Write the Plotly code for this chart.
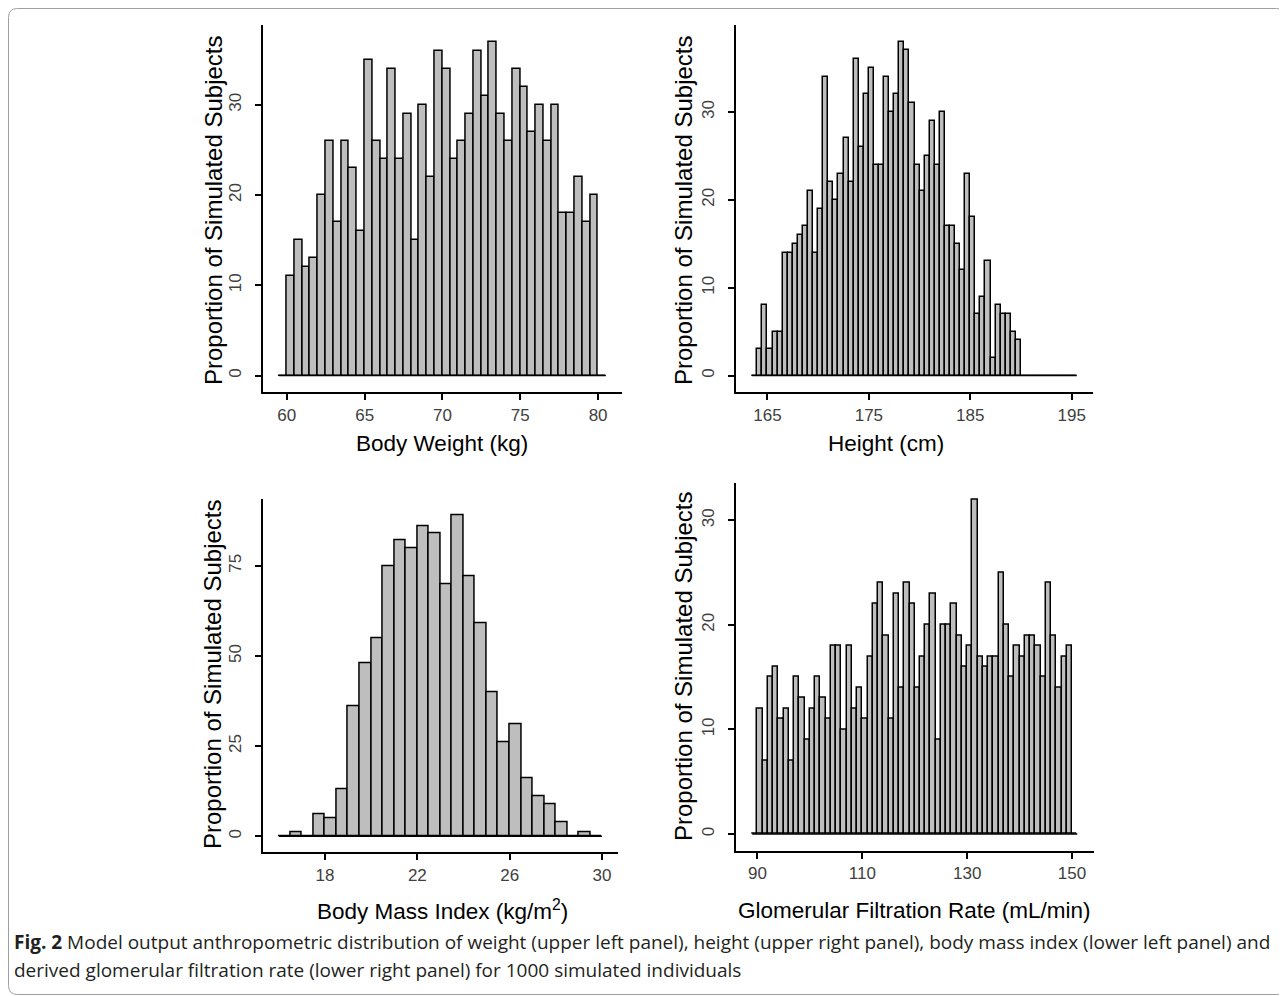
import plotly.graph_objects as go

# page is rendered with the browser's default 8px body margin -> compensate
PAGE_W, PAGE_H = 1287, 996
OFF = 8
W, H = PAGE_W - OFF, PAGE_H - OFF

# ---------------- data (counts per bin) ----------------
weight_start = 59.5
weight_binwidth = 0.5
weight_counts = [0, 11, 15, 12, 13, 20, 26, 17, 26, 23, 16, 35, 26, 24, 34, 24, 29,
                 15, 30, 22, 36, 34, 24, 26, 29, 36, 31, 37, 29, 26, 34, 32, 27, 30,
                 26, 30, 18, 18, 22, 17, 20, 0]

height_start = 163.5
height_binwidth = 0.5
height_counts = [0, 3, 8, 3, 5, 5, 14, 14, 15, 16, 17, 21, 14, 19, 34, 22, 20, 23, 27,
                 22, 36, 26, 32, 35, 24, 24, 34, 30, 32, 38, 37, 31, 24, 21, 25, 29,
                 24, 30, 17, 17, 15, 12, 23, 18, 7, 9, 13, 2, 8, 7, 7, 5, 4,
                 0, 0, 0, 0, 0, 0, 0, 0, 0, 0, 0]

bmi_start = 16.0
bmi_binwidth = 0.5
bmi_counts = [0, 1, 0, 6, 5, 13, 36, 48, 55, 75, 82, 80, 86, 84, 70, 89, 72, 59, 40,
              26, 31, 16, 11, 9, 4, 0, 1, 0]

gfr_start = 89.0
gfr_binwidth = 1.0
gfr_counts = [0, 12, 7, 15, 16, 11, 12, 7, 15, 13, 9, 12, 15, 13, 11, 18, 18, 10, 18,
              12, 14, 11, 17, 22, 24, 19, 11, 23, 14, 24, 22, 14, 17, 20, 23, 9, 20,
              20, 22, 19, 16, 18, 32, 17, 16, 17, 17, 25, 20, 15, 18, 17, 19, 19, 18,
              15, 24, 19, 14, 17, 18, 0]

weight_xticks = [60, 65, 70, 75, 80]
height_xticks = [165, 175, 185, 195]
bmi_xticks = [18, 22, 26, 30]
gfr_xticks = [90, 110, 130, 150]
y_ticks_small = [0, 10, 20, 30]
y_ticks_bmi = [0, 25, 50, 75]

x_titles = ["Body Weight (kg)", "Height (cm)", "Body Mass Index (kg/m<sup>2</sup>)",
            "Glomerular Filtration Rate (mL/min)"]
y_title = "Proportion of Simulated Subjects"
caption_line1 = ("<b>Fig. 2</b> Model output anthropometric distribution of weight (upper left panel), "
                 "height (upper right panel), body mass index (lower left panel) and")
caption_line2 = "derived glomerular filtration rate (lower right panel) for 1000 simulated individuals"


def fx(px):
    return (px - OFF) / W


def fy(py):
    return 1 - (py - OFF) / H


# ---------------- layout (page pixel positions) ----------------
panels = [
    dict(start=weight_start, bw=weight_binwidth, counts=weight_counts, xt=weight_xticks,
         yt=y_ticks_small, xdom=(262.7, 622.2), ydom=(25, 392.3),
         ytitle_pos=(213, 210), xtitle_pos=(442, 443)),
    dict(start=height_start, bw=height_binwidth, counts=height_counts, xt=height_xticks,
         yt=y_ticks_small, xdom=(736, 1093), ydom=(25, 392.3),
         ytitle_pos=(683, 210), xtitle_pos=(886, 443)),
    dict(start=bmi_start, bw=bmi_binwidth, counts=bmi_counts, xt=bmi_xticks,
         yt=y_ticks_bmi, xdom=(262.7, 618.2), ydom=(499.3, 852.3),
         ytitle_pos=(212, 674), xtitle_pos=(442, 910)),
    dict(start=gfr_start, bw=gfr_binwidth, counts=gfr_counts, xt=gfr_xticks,
         yt=y_ticks_small, xdom=(736, 1093.5), ydom=(482.7, 850.7),
         ytitle_pos=(683, 666), xtitle_pos=(914, 910)),
]

FONT = "Liberation Sans, Arial, sans-serif"
BAR_FILL = "#BEBEBE"
TICK_COLOR = "#404040"

fig = go.Figure()
layout = dict(width=W, height=H, margin=dict(l=0, r=0, t=0, b=0),
              plot_bgcolor="white", paper_bgcolor="white", showlegend=False,
              bargap=0, font=dict(family=FONT))
annotations = []

for i, p in enumerate(panels):
    n = len(p["counts"])
    edges0 = p["start"]
    edgesN = p["start"] + n * p["bw"]
    centers = [p["start"] + (k + 0.5) * p["bw"] for k in range(n)]
    suffix = "" if i == 0 else str(i + 1)
    xa, ya = "x" + suffix, "y" + suffix

    fig.add_trace(go.Bar(x=centers, y=p["counts"], width=[p["bw"]] * n,
                         marker=dict(color=BAR_FILL, line=dict(color="black", width=1.5)),
                         xaxis=xa, yaxis=ya, hoverinfo="x+y"))
    fig.add_trace(go.Scatter(x=[edges0, edgesN], y=[0, 0], mode="lines",
                             line=dict(color="black", width=1.5),
                             xaxis=xa, yaxis=ya, hoverinfo="skip"))

    span = edgesN - edges0
    ymax = max(p["counts"])
    xr = [edges0 - 0.05 * span, edgesN + 0.05 * span]
    yr = [-0.05 * ymax, 1.05 * ymax]

    axis_common = dict(showgrid=False, zeroline=False, showline=True, linecolor="black",
                       linewidth=2, ticks="outside", ticklen=6, tickwidth=2,
                       tickcolor="black", tickfont=dict(family=FONT, size=17, color=TICK_COLOR))
    layout["xaxis" + suffix] = dict(axis_common, domain=[fx(p["xdom"][0]), fx(p["xdom"][1])],
                                    range=xr, tickvals=p["xt"], anchor=ya)
    layout["yaxis" + suffix] = dict(axis_common, domain=[fy(p["ydom"][1]), fy(p["ydom"][0])],
                                    range=yr, tickvals=p["yt"], tickangle=-90, anchor=xa,
                                    ticklabelstandoff=7)

    annotations.append(dict(text=x_titles[i], x=fx(p["xtitle_pos"][0]), y=fy(p["xtitle_pos"][1]),
                            xref="paper", yref="paper", showarrow=False, xanchor="center",
                            yanchor="middle", font=dict(family=FONT, size=22.5, color="black")))
    annotations.append(dict(text=y_title, x=fx(p["ytitle_pos"][0]), y=fy(p["ytitle_pos"][1]),
                            xref="paper", yref="paper", showarrow=False, xanchor="center",
                            yanchor="middle", textangle=-90,
                            font=dict(family=FONT, size=24, color="black")))

CAP_FONT = "Open Sans, sans-serif"
annotations.append(dict(text=caption_line1, x=fx(12), y=fy(942), xref="paper", yref="paper",
                        showarrow=False, xanchor="left", yanchor="middle",
                        font=dict(family=CAP_FONT, size=19, color="#231F20")))
annotations.append(dict(text=caption_line2, x=fx(12), y=fy(970), xref="paper", yref="paper",
                        showarrow=False, xanchor="left", yanchor="middle",
                        font=dict(family=CAP_FONT, size=19, color="#231F20")))
layout["annotations"] = annotations


def rounded_rect(x0, y0, x1, y1, r):
    def P(x, y):
        return f"{fx(x):.6f},{fy(y):.6f}"
    return (f"M {P(x0 + r, y0)} L {P(x1 - r, y0)} Q {P(x1, y0)} {P(x1, y0 + r)} "
            f"L {P(x1, y1 - r)} Q {P(x1, y1)} {P(x1 - r, y1)} L {P(x0 + r, y1)} "
            f"Q {P(x0, y1)} {P(x0, y1 - r)} L {P(x0, y0 + r)} Q {P(x0, y0)} {P(x0 + r, y0)} Z")


layout["shapes"] = [dict(type="path", xref="paper", yref="paper",
                         path=rounded_rect(8.5, 8.5, 1285.5, 994.5, 9),
                         line=dict(color="#9E9E9E", width=1))]

fig.update_layout(**layout)
fig.write_html("out.html")
